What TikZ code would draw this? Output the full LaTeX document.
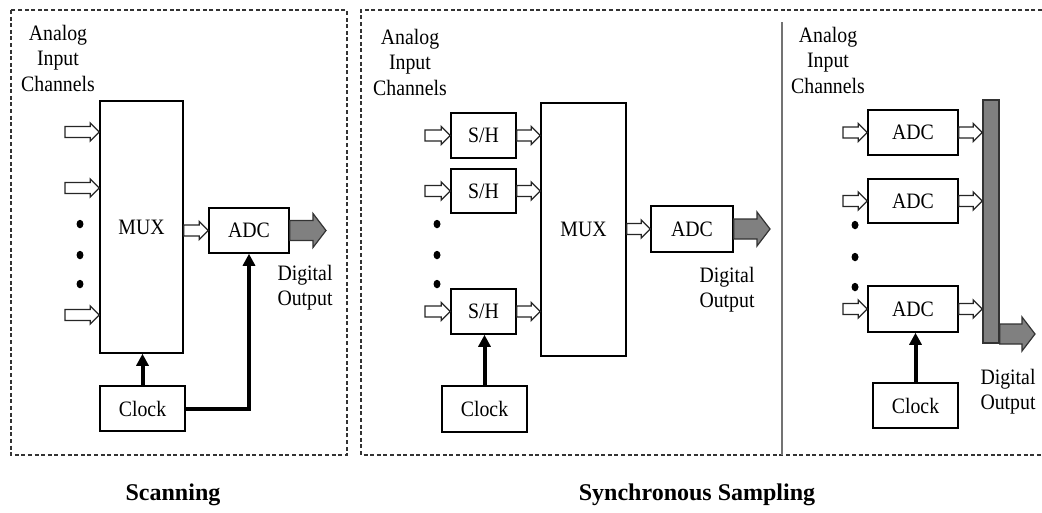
\documentclass[tikz,border=0pt]{standalone}
\usepackage{fontspec}
\setmainfont{Liberation Serif}[FakeStretch=0.9]
\newfontfamily\capfont{Liberation Serif}
\usetikzlibrary{arrows.meta,calc}

\tikzset{
  blk/.style={draw, line width=1.5pt, inner sep=0pt, fill=white,
    font=\fontsize{22}{26}\selectfont},
  lbl/.style={align=center, inner sep=0pt, font=\fontsize{22}{25.5}\selectfont},
  captext/.style={inner sep=0pt, font=\capfont\bfseries\fontsize{24}{28}\selectfont},
  % flat block arrow: shaft half-height, head half-height, head length
  flatarrow/.style n args={3}{to path={
    let \p1=(\tikztostart), \p2=(\tikztotarget) in
    (\x1,\y1+#1) -- (\x2-#3,\y1+#1) -- (\x2-#3,\y1+#2) -- (\x2,\y1)
    -- (\x2-#3,\y1-#2) -- (\x2-#3,\y1-#1) -- (\x1,\y1-#1) -- cycle}},
  hollow/.style={flatarrow={5.5pt}{9pt}{9pt}, draw=black!85, line width=1.3pt,
    line join=miter, fill=white},
  bulk/.style={flatarrow={10pt}{17pt}{13pt}, draw=black!80, line width=1.2pt, fill=black!50},
  clk/.style={line width=4pt, -{Triangle[length=12pt,width=12pt]}},
  frame/.style={line width=1.3pt, black!80, dash pattern=on 4pt off 2.6pt},
  dot/.style={ellipse, fill=black, inner sep=0pt, minimum width=7pt, minimum height=8.5pt}
}
\usetikzlibrary{shapes.geometric}

\begin{document}
\begin{tikzpicture}[x=1pt,y=-1pt]
\useasboundingbox (0,0) rectangle (1042,512);

% ---------- frames ----------
\draw[frame] (11,10) rectangle (347,455);
\draw[frame] (1042,10) -- (361,10) -- (361,455) -- (1042,455);
\draw[line width=1.6pt, black!55] (782,22) -- (782,455);

% ---------- scanning ----------
\node[lbl] (ain1) at (58,58) {Analog\\Input\\Channels};
\node[blk, minimum width=83pt, minimum height=252pt] (mux1) at (141.5,227) {MUX};
\node[blk, minimum width=80pt, minimum height=45pt] (adc1) at (249,230.5) {ADC};
\node[blk, minimum width=85pt, minimum height=45pt] (clk1) at (142.5,408.5) {Clock};
\node[lbl] (dout1) at (305,287.5) {Digital\\Output};

\coordinate (i1a) at (65,132);
\coordinate (i1b) at (65,188);
\coordinate (i1c) at (65,315);
\draw[hollow] (i1a) to (mux1.west);
\draw[hollow] (i1b) to (mux1.west);
\draw[hollow] (i1c) to (mux1.west);
\node[dot] (d1a) at (80,224) {};
\node[dot] (d1b) at (80,255) {};
\node[dot] (d1c) at (80,284) {};

\draw[hollow] (mux1.east |- adc1.west) to (adc1.west);
\coordinate (o1) at (326,230.5);
\draw[bulk] (adc1.east) to (o1);
\draw[clk] (clk1.north) -- (clk1.north |- mux1.south);
\draw[clk] (clk1.east) -| (adc1.south);

\node[captext] (scan) at (173,495) {Scanning};

% ---------- synchronous sampling: S/H + MUX ----------
\node[lbl] (ain2) at (410,62) {Analog\\Input\\Channels};
\node[blk, minimum width=65pt, minimum height=45pt] (sh1) at (483.5,135.5) {S/H};
\node[blk, minimum width=65pt, minimum height=44pt] (sh2) at (483.5,191) {S/H};
\node[blk, minimum width=65pt, minimum height=45pt] (sh3) at (483.5,311.5) {S/H};
\node[blk, minimum width=85pt, minimum height=253pt] (mux2) at (583.5,229.5) {MUX};
\node[blk, minimum width=82pt, minimum height=46pt] (adc2) at (692,229) {ADC};
\node[blk, minimum width=85pt, minimum height=46pt] (clk2) at (484.5,409) {Clock};
\node[lbl] (dout2) at (727,289.5) {Digital\\Output};

\coordinate (i2a) at (425,135.5);
\coordinate (i2b) at (425,191);
\coordinate (i2c) at (425,311.5);
\draw[hollow] (i2a) to (sh1.west);
\draw[hollow] (i2b) to (sh2.west);
\draw[hollow] (i2c) to (sh3.west);
\draw[hollow] (sh1.east) to (mux2.west);
\draw[hollow] (sh2.east) to (mux2.west);
\draw[hollow] (sh3.east) to (mux2.west);
\node[dot] (d2a) at (437,224) {};
\node[dot] (d2b) at (437,255) {};
\node[dot] (d2c) at (437,284) {};

\draw[hollow] (mux2.east |- adc2.west) to (adc2.west);
\coordinate (o2) at (770,229);
\draw[bulk] (adc2.east) to (o2);
\draw[clk] (clk2.north) -- (clk2.north |- sh3.south);

% ---------- synchronous sampling: one ADC per channel ----------
\node[lbl] (ain3) at (828,60) {Analog\\Input\\Channels};
\node[blk, minimum width=90pt, minimum height=45pt] (adc3a) at (913,132.5) {ADC};
\node[blk, minimum width=90pt, minimum height=44pt] (adc3b) at (913,201) {ADC};
\node[blk, minimum width=90pt, minimum height=46pt] (adc3c) at (913,309) {ADC};
\node[draw=black!80, line width=1.5pt, fill=black!50, inner sep=0pt,
      minimum width=16pt, minimum height=243pt] (bus) at (991,221.5) {};
\node[blk, minimum width=85pt, minimum height=45pt] (clk3) at (915.5,405.5) {Clock};
\node[lbl] (dout3) at (1008,391.5) {Digital\\Output};

\coordinate (i3a) at (843,132.5);
\coordinate (i3b) at (843,201);
\coordinate (i3c) at (843,309);
\draw[hollow] (i3a) to (adc3a.west);
\draw[hollow] (i3b) to (adc3b.west);
\draw[hollow] (i3c) to (adc3c.west);
\draw[hollow] (adc3a.east) to (bus.west);
\draw[hollow] (adc3b.east) to (bus.west);
\draw[hollow] (adc3c.east) to (bus.west);
\node[dot] (d3a) at (855,225) {};
\node[dot] (d3b) at (855,257) {};
\node[dot] (d3c) at (855,287) {};

\coordinate (o3) at (1035,334);
\draw[bulk] (bus.east |- o3) to (o3);
\draw[clk] (clk3.north) -- (clk3.north |- adc3c.south);

\node[captext] (sync) at (697,495) {Synchronous Sampling};
\end{tikzpicture}
\end{document}
